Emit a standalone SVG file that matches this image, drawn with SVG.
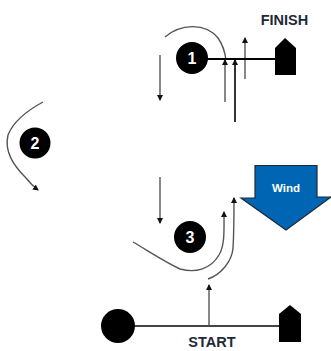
<svg xmlns="http://www.w3.org/2000/svg" width="331" height="351" viewBox="0 0 331 351">
<style>
.t{font-family:"Liberation Sans",Arial,sans-serif;font-weight:700}
.lbl{font-size:14.500px;fill:#1f2a38;text-anchor:middle}
.num{font-size:16px;fill:#fff;text-anchor:middle}
.g{fill:none;stroke:#555;stroke-width:1.400}
.k{fill:none;stroke:#000;stroke-width:2}
</style>
<defs>
<marker id="a" markerUnits="userSpaceOnUse" markerWidth="7" markerHeight="7" refX="5" refY="3" orient="auto"><path d="M0 0L6 3L0 6z" fill="#111"/></marker>
</defs>
<rect width="331" height="351" fill="#fff"/>
<g id="connectors">
<path class="g" d="M165 37C180 24 205 22 218 38C223 45 225 52 226 60"/>
<path class="g" d="M160 55V100" marker-end="url(#a)"/>
<path class="g" d="M225 102V60" marker-end="url(#a)"/>
<path class="g" d="M235 122V60" style="stroke:#000;stroke-width:1.600" marker-end="url(#a)"/>
<path class="g" d="M245 79V38" marker-end="url(#a)"/>
<path class="g" d="M43 102C30 109 14 120 8 135C4 152 14 166 26 178C30 183 34 187 38 190" marker-end="url(#a)"/>
<path class="g" d="M160 177V223" marker-end="url(#a)"/>
<path class="g" d="M133 242C150 252 165 262 180 269C195 273 210 270 219 255C225 245 224 230 224 212" marker-end="url(#a)"/>
<path class="g" d="M208 279C220 275 232 262 233 248C234 232 234 215 234 198" marker-end="url(#a)"/>
<path class="g" d="M209 326V285" marker-end="url(#a)"/>
</g>
<g id="finish-line">
<path class="k" d="M205 59H277"/>
<path d="M275 48L285 38L296 48V75H275z" fill="#000"/>
</g>
<g id="node-1"><circle cx="192" cy="58" r="16" fill="#000"/><text class="t num" x="192" y="63.500">1</text></g>
<g id="node-2"><circle cx="35" cy="143" r="15.500" fill="#000"/><text class="t num" x="35" y="148.500">2</text></g>
<g id="node-3"><circle cx="190" cy="237" r="16" fill="#000"/><text class="t num" x="190" y="242.500">3</text></g>
<g id="start-line">
<path d="M132 326H281" fill="none" stroke="#444" stroke-width="2.200"/>
<circle cx="118" cy="326" r="17" fill="#000"/>
<path d="M279 314L290 305L301 314V342H279z" fill="#000"/>
</g>
<g id="finish-label"><text class="t lbl" x="284.500" y="25">FINISH</text></g>
<g id="start-label"><text class="t lbl" x="212" y="347">START</text></g>
<g id="wind">
<path d="M255 165.500H317V197H331L286 230L241 198H255z" fill="#0066b3" stroke="#1a2a3a" stroke-width="1.200"/>
<text class="t" x="286" y="192" font-size="11.500" fill="#fff" text-anchor="middle">Wind</text>
</g>
</svg>
